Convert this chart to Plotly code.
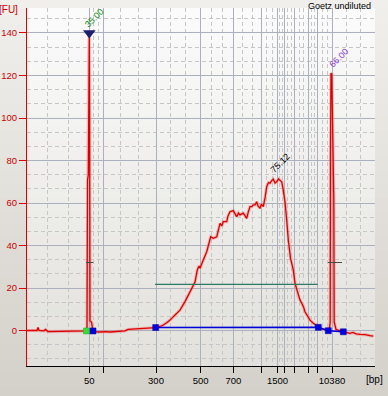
import plotly.graph_objects as go

# ---------------- data ----------------
time_s = [40.0, 41.2, 42.0, 42.2, 42.4, 43.4, 43.7, 44.2, 45.6, 46.6, 48.6, 50.6, 51.9,
          52.0, 52.04, 52.1, 52.26, 52.34, 52.46, 52.52, 52.54, 52.6, 52.9, 53.1, 53.2,
          54.6, 55.6, 56.6, 58.2, 59.6, 60.2, 61.6, 62.6, 64.2, 65.74,
          66.6, 67.26, 68.0, 68.6, 69.6, 70.6, 71.6, 72.6, 73.26, 73.6,
          74.06, 74.4, 74.6, 74.9, 75.26, 75.94, 76.74, 77.26, 77.94, 78.6,
          78.94, 79.26, 79.94, 80.2, 80.6, 81.26, 81.6, 81.94, 82.3, 82.6,
          83.26, 83.6, 83.94, 84.26, 84.6, 84.94, 85.26, 85.6, 85.94, 86.2,
          86.6, 86.9, 87.26, 87.6, 87.94, 88.3, 88.6, 88.9, 89.26, 89.6,
          89.94, 90.3, 90.6, 90.94, 91.26, 91.6, 91.94, 92.26, 92.7, 93.26,
          93.6, 93.94, 94.26, 94.6, 94.94, 95.3, 95.6, 96.1, 96.6, 97.26,
          97.8, 98.26, 98.8, 99.26, 99.8, 100.26,
          100.5, 100.64, 100.7, 100.8, 100.96, 101.1, 101.36, 101.44, 101.8, 102.6, 103.26,
          103.8, 104.6, 105.2, 105.8, 106.6, 107.6, 108.6, 109.26]
fu = [0.0, -0.2, 0.0, 1.4, 0.0, -0.2, 0.5, -0.5, -0.5, -0.2, -0.5, -0.5, -0.2,
      0.2, 14.4, 70.8, 73.2, 128.2, 140.0, 105.2, 70.8, 4.5, 4.0, 0.2, -0.5,
      -0.7, -0.5, -0.7, -0.5, -0.2, 0.5, 0.7, 0.9, 1.2, 1.4,
      1.9, 2.6, 3.8, 4.9, 7.3, 9.6, 13.6, 18.3, 21.9, 22.8,
      28.5, 30.4, 29.3, 31.3, 33.2, 37.1, 44.1, 43.4, 44.1, 50.4,
      49.2, 51.2, 51.2, 53.9, 55.9, 56.4, 54.8, 53.6, 55.3, 54.4,
      55.2, 53.9, 52.8, 55.8, 58.3, 58.3, 59.1, 59.1, 60.6, 58.6,
      57.5, 59.5, 58.3, 62.4, 67.7, 69.6, 69.3, 70.4, 71.2, 69.4,
      70.0, 71.3, 70.5, 70.0, 66.1, 60.6, 52.0, 42.6, 34.1, 28.5,
      22.2, 19.5, 15.9, 14.4, 12.8, 11.1, 8.8, 6.8, 4.9, 3.4,
      2.4, 1.5, 0.9, 0.6, 0.2, -0.1,
      1.2, 4.0, 84.9, 121.0, 120.7, 103.8, 61.4, 4.0, 0.5, -0.2, -0.6,
      -0.7, -1.3, -0.9, -1.6, -1.8, -1.9, -2.4, -2.6]

ladder_time = [52.46, 55.26, 65.8, 74.74, 81.26, 86.94, 90.1, 91.5, 93.5, 96.3, 98.1, 101.0]
ladder_label = ["50", "", "300", "500", "700", "", "1500", "", "", "", "", "10380"]

fu_ticks = [0, 20, 40, 60, 80, 100, 120, 140]

peak_time = [52.46, 89.26, 100.8]
peak_fu = [140.0, 71.2, 121.0]
peak_label = ["35.00", "75.12", "66.00"]

lm_bound_time = [51.9, 53.2]
lm_bound_fu = [-0.2, -0.2]
region_time = [65.74, 98.26, 100.26, 103.26]
region_fu = [1.4, 1.5, -0.1, -0.6]
level_time = [65.6, 98.14]
level_fu = [21.7, 21.7]
lm_hw_time = [51.8, 53.26]
um_hw_time = [100.2, 103.0]
hw_fu = [32.0, 32.0]

X_RANGE = [40.0, 109.6]
Y_RANGE = [-16.7, 151.76]

FONT = "Liberation Sans, Arial, sans-serif"
RED = "#dd0000"

fig = go.Figure()

# halo + main trace
fig.add_trace(go.Scatter(x=time_s, y=fu, mode="lines",
                         line=dict(color="rgba(240,120,120,0.45)", width=3.2),
                         hoverinfo="skip", showlegend=False))
fig.add_trace(go.Scatter(x=time_s, y=fu, mode="lines",
                         line=dict(color=RED, width=1.3), showlegend=False))

# level line (green)
fig.add_trace(go.Scatter(x=level_time, y=level_fu, mode="lines",
                         line=dict(color="#2f7a66", width=1.2), showlegend=False))
# half-height markers
for hw_t in (lm_hw_time, um_hw_time):
    fig.add_trace(go.Scatter(x=hw_t, y=hw_fu, mode="lines",
                             line=dict(color="#4a4a4a", width=1), showlegend=False))

# region baseline (blue)
fig.add_trace(go.Scatter(x=region_time, y=region_fu, mode="lines+markers",
                         line=dict(color="#0000d8", width=1.5),
                         marker=dict(symbol="square", size=6, color="#0000e0",
                                     line=dict(color="#0000a0", width=0.5)),
                         showlegend=False))
# lower marker bounds
fig.add_trace(go.Scatter(x=lm_bound_time, y=lm_bound_fu, mode="markers",
                         marker=dict(symbol="square", size=6,
                                     color=["#33dd33", "#0000e0"],
                                     line=dict(color=["#22aa22", "#0000a0"], width=0.5)),
                         showlegend=False))
# lower marker triangle
fig.add_trace(go.Scatter(x=[peak_time[0]], y=[peak_fu[0]], mode="markers",
                         marker=dict(symbol="triangle-down", size=11, color="#1e1e6e"),
                         showlegend=False))

# peak labels
label_colors = ["#158a15", "#000000", "#8a3cd0"]
label_shift = [(5, 15), (7, 16), (8, 15)]
annotations = []
for t, v, txt, c, (dx, dy) in zip(peak_time, peak_fu, peak_label, label_colors, label_shift):
    annotations.append(dict(x=t, y=v, xref="x", yref="y", text=txt, showarrow=False,
                            textangle=-45, xshift=dx, yshift=dy,
                            xanchor="center", yanchor="middle",
                            font=dict(family=FONT, size=9, color=c)))

annotations += [
    dict(x=-0.052, y=0.995, xref="paper", yref="paper", text="[FU]", showarrow=False,
         xanchor="center", yanchor="middle", font=dict(family=FONT, size=10, color="#cc0000")),
    dict(x=0.897, y=1.006, xref="paper", yref="paper", text="Goetz undiluted", showarrow=False,
         xanchor="center", yanchor="middle", font=dict(family=FONT, size=9, color="#000000")),
    dict(x=0.999, y=-0.039, xref="paper", yref="paper", text="[bp]", showarrow=False,
         xanchor="center", yanchor="middle", font=dict(family=FONT, size=10, color="#000000")),
]

# minor x grid at thirds between ladder ticks
edges = [X_RANGE[0]] + ladder_time + [X_RANGE[1]]
minor_x = []
for a, b in zip(edges[:-1], edges[1:]):
    minor_x += [a + (b - a) / 3, a + 2 * (b - a) / 3]


def mix(c1, c2, f):
    return "rgb(%d,%d,%d)" % tuple(round(c1[i] + (c2[i] - c1[i]) * f) for i in range(3))


shapes = []
N = 30
# whole-figure gradient
ox0, ox1 = -27 / 348 - 0.01, 1 + 13 / 348 + 0.01
oy0, oy1 = -30 / 358 - 0.01, 1 + 8 / 358 + 0.01
for i in range(N):
    y0 = oy1 - (oy1 - oy0) * i / N
    y1 = oy1 - (oy1 - oy0) * (i + 1) / N
    shapes.append(dict(type="rect", xref="paper", yref="paper", x0=ox0, x1=ox1, y0=y1, y1=y0 + 0.002,
                       fillcolor=mix((240, 239, 236), (212, 209, 202), i / (N - 1)),
                       line=dict(width=0), layer="below"))
# plot-area gradient
for i in range(N):
    y0 = 1 - i / N
    y1 = 1 - (i + 1) / N
    shapes.append(dict(type="rect", xref="paper", yref="paper", x0=0, x1=1, y0=y1, y1=min(1, y0 + 0.002),
                       fillcolor=mix((251, 251, 251), (226, 225, 220), i / (N - 1)),
                       line=dict(width=0), layer="below"))

fig.update_layout(
    width=388, height=396, autosize=False,
    margin=dict(l=27, r=13, t=8, b=30, autoexpand=False),
    paper_bgcolor="#dcdad4", plot_bgcolor="rgba(0,0,0,0)",
    showlegend=False, shapes=shapes, annotations=annotations,
    font=dict(family=FONT, size=9),
    xaxis=dict(range=X_RANGE, tickmode="array", tickvals=ladder_time, ticktext=ladder_label,
               automargin=False,
               showgrid=True, gridcolor="#aab1bd", gridwidth=1, zeroline=False,
               showline=True, linecolor="#000000", linewidth=1,
               ticks="outside", ticklen=6, tickcolor="#000000", tickwidth=1,
               tickfont=dict(family=FONT, size=9.5, color="#000000"),
               minor=dict(tickmode="array", tickvals=minor_x, showgrid=True,
                          gridcolor="#c6c6c6", griddash="4px,3px", gridwidth=1, ticks=""),
               fixedrange=True),
    yaxis=dict(range=Y_RANGE, tickmode="array", tickvals=fu_ticks,
               automargin=False,
               showgrid=True, gridcolor="#aab1bd", gridwidth=1, zeroline=False,
               showline=True, linecolor="#dd0000", linewidth=1,
               ticks="outside", ticklen=7, tickcolor="#dd0000", tickwidth=1,
               tickfont=dict(family=FONT, size=9.5, color="#cc0000"),
               minor=dict(dtick=20 / 3, tick0=0, showgrid=True,
                          gridcolor="#c6c6c6", griddash="4px,3px", gridwidth=1, ticks=""),
               fixedrange=True),
)

fig.write_html("out.html",
               config={"displayModeBar": False},
               post_script="document.body.style.margin='0px';document.body.style.padding='0px';"
                           "document.body.style.overflow='hidden';")
